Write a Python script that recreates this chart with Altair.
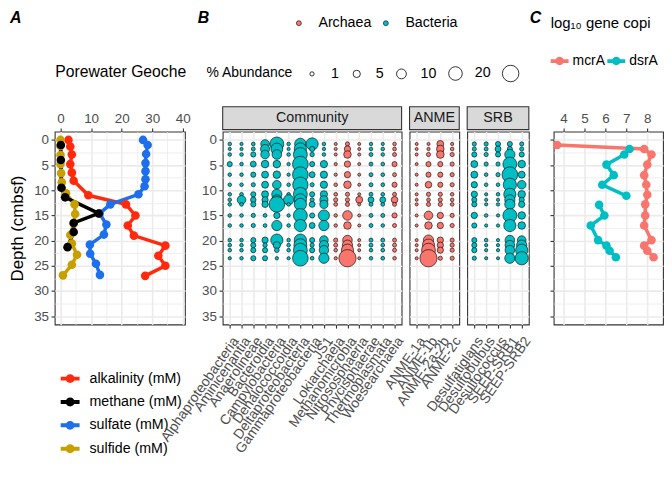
import altair as alt
import pandas as pd

FONT = "Liberation Sans"

# ---------------- A: porewater geochemistry (depth in cmbsf, values in mM)
alkalinity_depth = [0, 1.3, 2.9, 4.8, 6.5, 8.1, 11, 12.8, 15, 17, 19, 21, 23, 25, 27]
alkalinity_mM = [2.6, 3.2, 3.7, 3.2, 3.7, 4.3, 9.1, 21.4, 24.5, 22, 24, 34.3, 32, 34.3, 27.7]
sulfate_depth = [0, 1, 2.8, 4.6, 6.2, 7.8, 9.2, 10.8, 12.8, 14.6, 16.8, 18.8, 20.8, 22.6, 24.6, 26.8]
sulfate_mM = [27, 28.5, 28, 27.8, 27.8, 27.8, 27.5, 25.5, 16.3, 12.8, 15, 14.2, 9.6, 9.7, 11.6, 12.9]
sulfide_depth = [0, 1.2, 3, 4.8, 6.6, 8.4, 10.6, 12.8, 14.7, 16.6, 18.9, 20.6, 22.8, 24.8, 26.9]
sulfide_mM = [0, 0, 0, 0, 0.2, 0.4, 1.8, 4.6, 4.8, 4.3, 3.2, 3.7, 5.4, 3.7, 0.8]
methane_depth = [1, 4, 9.5, 11.4, 14.6, 16.5, 18.3, 21.3]
methane_mM = [0.1, 0.1, 0.3, 1.5, 12.5, 4.3, 4.3, 2.3]

geo_names = ["alkalinity (mM)", "methane (mM)", "sulfate (mM)", "sulfide (mM)"]
geo_colors = ["#FF2A0D", "#000000", "#1E6FEB", "#C7A000"]

# ---------------- B: community (% abundance per sample depth)
sample_depth = [0.8, 1.8, 2.9, 4.8, 6.9, 8.9, 10.8, 11.9, 12.8, 15.0, 17.0, 19.9, 20.9, 21.9, 23.5]

community_taxa = ["Alphaproteobacteria", "Aminicenantia", "Anaerolineae", "Bacteroidia",
                  "Campylobacteria", "Dehalococcoidia", "Deltaproteobacteria",
                  "Gammaproteobacteria", "JS1", "Lokiarchaeia", "Methanomicrobia",
                  "Nitrososphaeria", "Phycisphaerae", "Thermoplasmata", "Woesearchaeia"]
community_domain = ["Bacteria", "Bacteria", "Bacteria", "Bacteria", "Bacteria", "Bacteria",
                    "Bacteria", "Bacteria", "Bacteria", "Archaea", "Archaea", "Archaea",
                    "Bacteria", "Bacteria", "Archaea"]
anme_taxa = ["ANME-1a", "ANME-1b", "ANME-2a-2b", "ANME-2c"]
srb_taxa = ["Desulfatiglans", "Desulfobulbus", "Desulfococcus", "SEEP-SRB1", "SEEP-SRB2"]

alphaproteobacteria = [0.5, 0.2, 0.5, 2, 0.5, 0.5, 0.5, 0.5, 0.5, 0.5, 0.5, 0.5, 0.5, 0.5, 0.2]
aminicenantia = [0.2, 0.2, 0.5, 0.5, 0.5, 0.5, 0.6, 7.5, 0.6, 0.5, 0.5, 0.5, 0.5, 0.5, 0.4]
anaerolineae = [0.6, 0.8, 2, 3, 2, 1, 2, 2.5, 2, 1, 1, 2, 2, 2, 2]
bacteroidia = [7.5, 8.5, 7.5, 5.5, 4.5, 4.5, 4.5, 3.5, 3.5, 0.6, 0.6, 3.5, 1.2, 2, 2]
campylobacteria = [21, 15, 9.5, 5.5, 5.5, 7.5, 11, 11, 27, 3.5, 11, 16, 5, 1.5, 0.3]
dehalococcoidia = [0.5, 0.2, 0.5, 0.3, 0.3, 0.5, 0.5, 11, 0.5, 0.3, 0.5, 0.5, 0.5, 0.5, 0.2]
deltaproteobacteria = [14, 16, 21, 27, 27, 26, 21, 16, 16, 21, 16, 16, 18, 21, 27]
gammaproteobacteria = [16, 2, 1.2, 2, 3, 1, 2, 1, 3, 2, 3, 2, 1, 2, 0.6]
js1 = [0.5, 0.3, 0.5, 5, 5, 5, 5, 6.5, 6.5, 13, 11, 7.5, 9, 9, 11]
lokiarchaeia = [0.1, 0.1, 0.1, 0.2, 0.2, 0.5, 0.6, 1, 0.6, 0.4, 0.4, 1, 0.8, 0.5, 0.2]
methanomicrobia = [1, 3.5, 5.5, 3.5, 3.5, 5.5, 1, 1, 1, 9.5, 5.5, 9.5, 11, 16, 33]
nitrososphaeria = [0.05, 0.05, 0.05, 0.05, 0.05, 0.05, 0.05, 4.5, 0.05, 0.05, 0.05, 0.05, 0.05, 0.05, 0.05]
phycisphaerae = [0.4, 0.5, 0.8, 0.8, 0.8, 0.8, 0.8, 3, 0.8, 0.8, 0.8, 0.8, 0.8, 0.5, 0.5]
thermoplasmata = [0.2, 0.5, 0.5, 0.6, 0.6, 0.6, 0.6, 3, 0.6, 0.8, 0.5, 0.8, 0.6, 0.6, 0.6]
woesearchaeia = [0.5, 0.6, 0.8, 2, 0.8, 2, 0.8, 4, 0.8, 2, 0.8, 0.8, 0.8, 0.8, 0.5]

anme_1a = [0.05, 0.05, 0.05, 0.05, 0.05, 0.05, 0.05, 0.05, 0.05, 0.05, 0.05, 0.05, 0.05, 0.05, 0.05]
anme_1b = [0.1, 0.2, 1, 2, 2, 4, 1, 0.6, 1, 7.5, 5.5, 11, 16, 21, 33]
anme_2a_2b = [4.5, 5.7, 5.7, 2, 2, 2, 1, 1, 1, 3.5, 3.5, 3.5, 3.5, 3.5, 1]
anme_2c = [0.2, 0.5, 1, 1, 1, 1, 0.5, 0.5, 0.5, 1, 1, 1, 1, 1, 1]

desulfatiglans = [1, 1, 2, 4.5, 4.5, 3.5, 3.5, 2, 2, 3.5, 2, 2, 2, 2, 1]
desulfobulbus = [1, 0.8, 1, 1, 0.5, 0.5, 0.2, 0.2, 0.2, 0.5, 0.2, 0.5, 0.2, 0.2, 0.2]
desulfococcus = [2, 3, 2, 1, 1, 0.5, 0.5, 0.2, 0.3, 0.2, 0.2, 0.2, 0.2, 0.2, 0.1]
seep_srb1 = [2, 2, 11, 21, 27, 19, 16, 11, 11, 21, 16, 9.5, 9.5, 9.5, 11]
seep_srb2 = [1, 1, 2, 5.5, 4.5, 7.5, 5.5, 2, 3.5, 5.5, 5.5, 7.5, 11, 16, 19]

# ---------------- C: log10 gene copies
mcra_depth = [1.0, 1.8, 2.9, 4.9, 7.0, 8.9, 10.9, 12.8, 15.0, 17.0, 19.9, 21.0, 22.0, 23.3]
mcra_log = [3.7, 7.85, 8.2, 8.0, 7.85, 7.95, 8.0, 7.9, 7.9, 7.85, 8.2, 7.85, 8.0, 8.3]
dsra_depth = [1.8, 2.9, 4.9, 7.0, 8.9, 11.1, 12.9, 15.0, 17.0, 19.9, 21.0, 22.0, 23.3]
dsra_log = [7.15, 6.9, 6.05, 6.4, 5.85, 7.0, 5.7, 5.95, 5.3, 5.65, 6.05, 6.2, 6.5]
dsra_run = ["upper"] * 6 + ["lower"] * 7

gene_names = ["mcrA", "dsrA"]
gene_colors = ["#F8766D", "#00BFC4"]

# ---------------- tables
geo = pd.concat([
    pd.DataFrame({"depth": alkalinity_depth, "value": alkalinity_mM, "variable": geo_names[0]}),
    pd.DataFrame({"depth": sulfate_depth, "value": sulfate_mM, "variable": geo_names[2]}),
    pd.DataFrame({"depth": sulfide_depth, "value": sulfide_mM, "variable": geo_names[3]}),
    pd.DataFrame({"depth": methane_depth, "value": methane_mM, "variable": geo_names[1]}),
])
geo["hue"] = geo["variable"].map(dict(zip(geo_names, geo_colors)))


def taxa_table(taxa, domains, columns):
    rows = []
    for name, dom, vals in zip(taxa, domains, columns):
        for d, v in zip(sample_depth, vals):
            rows.append({"taxon": name, "domain": dom, "depth": d, "abundance": v})
    return pd.DataFrame(rows).sort_values("depth", kind="stable")


community = taxa_table(community_taxa, community_domain,
                       [alphaproteobacteria, aminicenantia, anaerolineae, bacteroidia,
                        campylobacteria, dehalococcoidia, deltaproteobacteria,
                        gammaproteobacteria, js1, lokiarchaeia, methanomicrobia,
                        nitrososphaeria, phycisphaerae, thermoplasmata, woesearchaeia])
anme = taxa_table(anme_taxa, ["Archaea"] * 4, [anme_1a, anme_1b, anme_2a_2b, anme_2c])
srb = taxa_table(srb_taxa, ["Bacteria"] * 5,
                 [desulfatiglans, desulfobulbus, desulfococcus, seep_srb1, seep_srb2])

genes = pd.concat([
    pd.DataFrame({"depth": mcra_depth, "value": mcra_log, "gene": "mcrA", "run": "m"}),
    pd.DataFrame({"depth": dsra_depth, "value": dsra_log, "gene": "dsrA", "run": dsra_run}),
])
genes["hue"] = genes["gene"].map(dict(zip(gene_names, gene_colors)))

# ---------------- shared pieces
H = 194
# legend key: a short thick line with a dot on it
LINE_DOT = ("M-1,-0.21L1,-0.21L1,0.21L-1,0.21Z"
            "M-0.47,0A0.47,0.47,0,1,1,0.47,0A0.47,0.47,0,1,1,-0.47,0Z")
depth_breaks = [0, 2.5, 5, 7.5, 10, 12.5, 15, 17.5, 20, 22.5, 25, 27.5, 30, 32.5, 35]
y_scale = alt.Scale(domain=[-1.65, 36.65], reverse=True, nice=False, zero=False)


def minor_axis(test, **kw):
    return alt.Axis(
        labelExpr=f"{test} ? datum.label : ''",
        format="d",
        gridWidth={"condition": {"test": test, "value": 1.6}, "value": 0.8},
        tickOpacity={"condition": {"test": test, "value": 1}, "value": 0},
        **kw,
    )


def tag(letter, x):
    return alt.Chart(pd.DataFrame({"t": [letter]})).mark_text(
        fontSize=16, fontWeight="bold", fontStyle="italic", align="left",
        baseline="top", color="black"
    ).encode(text="t:N", x=alt.value(x), y=alt.value(-122))


def strip(label, w):
    s = pd.DataFrame({"label": [label]})
    box = alt.Chart(s).mark_rect(fill="#D9D9D9", stroke="#333333", strokeWidth=1.1).encode(
        x=alt.value(0), x2=alt.value(w), y=alt.value(-25), y2=alt.value(-2))
    txt = alt.Chart(s).mark_text(fontSize=14.4, color="#1A1A1A").encode(
        text="label:N", x=alt.value(w / 2), y=alt.value(-13.5))
    return box + txt


def spacer(w):
    return alt.Chart(pd.DataFrame({"v": [0]})).mark_point(opacity=0).encode(
        x=alt.value(0), y=alt.value(0)
    ).properties(width=w, height=H, view=alt.ViewBackground(stroke="transparent"))


# ---------------- panel A
geo_color = alt.Scale(domain=geo_names, range=geo_colors)
a_x = alt.X("value:Q", title=None,
            scale=alt.Scale(domain=[-1.9, 40.7], nice=False, zero=False),
            axis=minor_axis("datum.value % 10 === 0", orient="top", labelPadding=2,
                            values=[0, 5, 10, 15, 20, 25, 30, 35, 40]))
a_y = alt.Y("depth:Q", scale=y_scale,
            axis=minor_axis("datum.value % 5 === 0", values=depth_breaks, labelPadding=2.5,
                            title="Depth (cmbsf)", titlePadding=7, titleFontSize=17))

# lines take their colour straight from the table so that only the points make the legend
a_lines = alt.Chart(geo).mark_line(strokeWidth=3.5).encode(
    x=a_x, y=a_y, order="depth:Q", detail="variable:N",
    stroke=alt.Stroke("hue:N", scale=None),
)
a_points = alt.Chart(geo).mark_circle(size=75, opacity=1).encode(
    x=a_x, y=a_y,
    color=alt.Color("variable:N", scale=geo_color,
                    legend=alt.Legend(title=None, orient="none", legendX=6, legendY=239,
                                      direction="vertical", symbolType=LINE_DOT,
                                      symbolSize=361, symbolStrokeWidth=0, labelOffset=10,
                                      rowPadding=6.5, labelFontSize=14.3)),
)
a_title = alt.Chart(pd.DataFrame({"t": ["Porewater Geoche"]})).mark_text(
    fontSize=15.8, align="left", baseline="middle", color="black"
).encode(text="t:N", x=alt.value(0.6), y=alt.value(-60))

panel_a = alt.layer(a_lines, a_points, a_title, tag("A", -45)).properties(width=131, height=H)

# ---------------- panel B
size_scale = alt.Scale(domain=[0, 35], range=[9, 320])
domain_scale = alt.Scale(domain=["Archaea", "Bacteria"], range=["#F8766D", "#00BFC4"])
taxon_axis = alt.Axis(labelAngle=305, labelAlign="right", labelBaseline="top",
                      labelOverlap=False, labelPadding=6, grid=True, gridWidth=1.6,
                      labelFontSize=14)

color_legend = alt.Legend(title=None, orient="none", legendX=69.5, legendY=-116.5,
                          direction="horizontal", symbolType="circle", symbolSize=25,
                          symbolStrokeColor="black", symbolStrokeWidth=0.6,
                          labelOffset=12.5, columnPadding=6.5, labelFontSize=14.3)
size_legend = alt.Legend(title="% Abundance", titleOrient="left", titleFontSize=14,
                         titlePadding=11, orient="none", legendX=-16.3, legendY=-67.5,
                         direction="horizontal", values=[1, 5, 10, 20, 30],
                         labelExpr="datum.value == 30 ? '' : datum.label",
                         symbolFillColor="white", symbolStrokeColor="black",
                         symbolStrokeWidth=0.8, labelOffset=12, columnPadding=10,
                         labelFontSize=14.3)


def dots(df, taxa, y_axis, c_leg, s_leg):
    return alt.Chart(df).mark_circle(opacity=1, stroke="black", strokeWidth=0.6).encode(
        x=alt.X("taxon:N", sort=taxa, title=None,
                scale=alt.Scale(type="point", padding=0.6), axis=taxon_axis),
        y=alt.Y("depth:Q", scale=y_scale, title=None, axis=y_axis),
        color=alt.Color("domain:N", scale=domain_scale, legend=c_leg),
        size=alt.Size("abundance:Q", scale=size_scale, legend=s_leg),
    )


comm_y = minor_axis("datum.value % 5 === 0", values=depth_breaks, labelPadding=2.5)
plain_y = minor_axis("datum.value % 5 === 0", values=depth_breaks, labels=False, ticks=False)

panel_comm = alt.layer(
    strip("Community", 180),
    dots(community, community_taxa, comm_y, color_legend, size_legend),
    tag("B", -25),
).properties(width=180, height=H)
panel_anme = alt.layer(
    strip("ANME", 50), dots(anme, anme_taxa, plain_y, None, None)
).properties(width=50, height=H)
panel_srb = alt.layer(
    strip("SRB", 62), dots(srb, srb_taxa, plain_y, None, None)
).properties(width=62, height=H)

# ---------------- panel C
gene_color = alt.Scale(domain=gene_names, range=gene_colors)
c_x = alt.X("value:Q", title=None,
            scale=alt.Scale(domain=[3.53, 8.75], nice=False, zero=False),
            axis=minor_axis("datum.value % 1 === 0", orient="top", labelPadding=2,
                            values=[4, 4.5, 5, 5.5, 6, 6.5, 7, 7.5, 8, 8.5]))
c_y = alt.Y("depth:Q", scale=y_scale, title=None,
            axis=minor_axis("datum.value % 5 === 0", values=depth_breaks, labels=False))

c_lines = alt.Chart(genes).mark_line(strokeWidth=3.5).encode(
    x=c_x, y=c_y, order="depth:Q", detail="run:N",
    stroke=alt.Stroke("hue:N", scale=None),
)
c_points = alt.Chart(genes).mark_circle(size=75, opacity=1).encode(
    x=c_x, y=c_y,
    color=alt.Color("gene:N", scale=gene_color,
                    legend=alt.Legend(title="log₁₀ gene copi", titleOrient="top",
                                      titleAnchor="start", titlePadding=21, titleFontSize=15,
                                      orient="none", legendX=-3, legendY=-116,
                                      direction="horizontal", symbolType=LINE_DOT,
                                      symbolSize=324, symbolStrokeWidth=0, labelOffset=4,
                                      columnPadding=2, labelFontSize=14)),
)
panel_c = alt.layer(c_lines, c_points, tag("C", -24)).properties(width=110, height=H)

# ---------------- assemble
chart = (
    alt.hconcat(panel_a, spacer(22), panel_comm, panel_anme, panel_srb, spacer(9), panel_c,
                spacing=8, bounds="flush")
    .resolve_scale(x="independent", y="independent", color="independent", size="independent")
    .resolve_legend(color="independent", size="independent")
    .properties(padding=0, background="white")
    .configure(font=FONT)
    .configure_view(stroke="#333333", strokeWidth=1.1)
    .configure_axis(labelFontSize=13.5, labelColor="#4D4D4D", tickColor="#333333",
                    tickSize=3.7, tickWidth=1.1, domain=False, gridColor="#EBEBEB",
                    titleFontWeight="normal", titleColor="#000000")
    .configure_legend(padding=0, labelColor="#000000", titleFontWeight="normal",
                      titleColor="#000000", labelLimit=300)
)

chart.save("out.html", embed_options={"renderer": "svg", "actions": False})
